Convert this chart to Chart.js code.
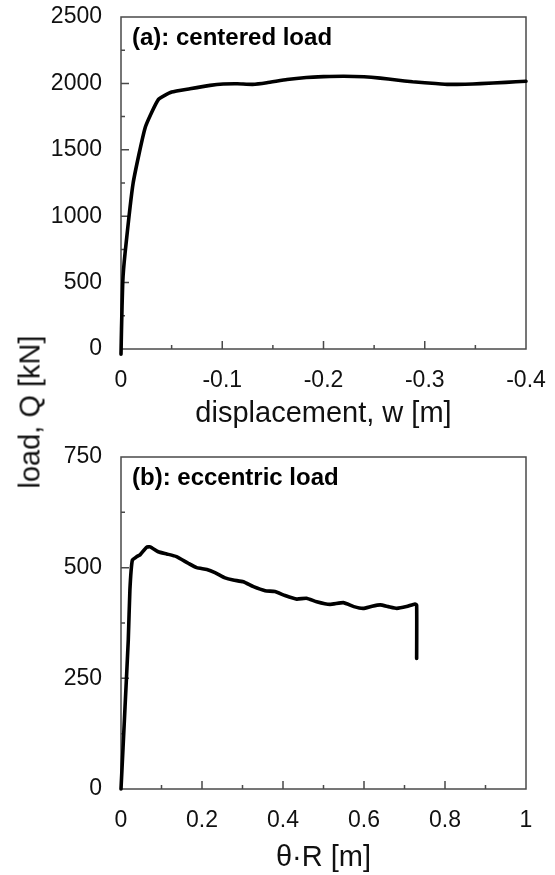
<!DOCTYPE html>
<html>
<head>
<meta charset="utf-8">
<title>load-displacement curves</title>
<script src="https://cdn.jsdelivr.net/npm/chart.js@4.4.1/dist/chart.umd.min.js"></script>
<style>
  html, body { margin: 0; padding: 0; background: #fff; }
  #figure { position: relative; width: 555px; height: 875px; }
  #figure canvas { position: absolute; left: 0; }
  #yTitle {
    position: absolute; left: 30px; top: 412px;
    transform: translate(-50%, -50%) rotate(-90deg);
    font: 29px "Liberation Sans", Arial, sans-serif;
    color: #111; white-space: nowrap;
  }
</style>
</head>
<body>
<div id="figure">
  <canvas id="chartA" width="555" height="440" style="top:0"></canvas>
  <canvas id="chartB" width="555" height="435" style="top:440px"></canvas>
  <div id="yTitle">load, Q [kN]</div>
</div>

<script>
// (a) centered load: vertical displacement w [m] vs load Q [kN]
const centeredW = [0, -0.0005, -0.0017, -0.004, -0.012, -0.024, -0.037, -0.05, -0.068, -0.088, -0.101,
  -0.115, -0.13, -0.144, -0.164, -0.183, -0.2, -0.22, -0.24, -0.256, -0.272, -0.288, -0.30, -0.322,
  -0.34, -0.355, -0.38, -0.4];
const centeredQ = [-40, 150, 500, 720, 1250, 1670, 1880, 1935, 1960, 1985, 1995,
  1997, 1993, 2005, 2030, 2045, 2051, 2054, 2050, 2040, 2025, 2012, 2005, 1993,
  1994, 1998, 2008, 2016];

// (b) eccentric load: rotation times radius θ·R [m] vs load Q [kN]
const eccentricTR = [0, 0.01, 0.018, 0.022, 0.028, 0.039, 0.047, 0.063, 0.072, 0.092, 0.113, 0.137,
  0.166, 0.187, 0.212, 0.232, 0.257, 0.277, 0.302, 0.327, 0.356, 0.38, 0.405, 0.434, 0.458,
  0.483, 0.516, 0.549, 0.575, 0.598, 0.62, 0.64, 0.66, 0.681, 0.705, 0.726, 0.73, 0.73];
const eccentricQ = [0, 186, 337, 450, 517, 525, 529, 546, 547, 536, 531, 525,
  510, 500, 496, 489, 477, 472, 468, 457, 448, 446, 437, 429, 431,
  423, 417, 421, 412, 408, 413, 416, 412, 408, 412, 418, 415, 295];

// axis ranges and tick steps
const aX = { min: -0.4, max: 0, step: 0.1, minor: 0.05 };
const aY = { min: 0, max: 2500, step: 500, minor: 250 };
const bX = { min: 0, max: 1, step: 0.2, minor: 0.1 };
const bY = { min: 0, max: 750, step: 250, minor: 125 };

const FONT = '"Liberation Sans", Arial, sans-serif';
const axisColor = '#4a4a4a';
const textColor = '#111';

// frame + inward major/minor tick marks, drawn under the curve
const frameTicks = {
  id: 'frameTicks',
  beforeDatasetsDraw(chart, args, opts) {
    const { ctx, chartArea: a, scales } = chart;
    ctx.save();
    ctx.strokeStyle = axisColor;
    ctx.lineWidth = 1.5;
    ctx.strokeRect(a.left, a.top, a.right - a.left, a.bottom - a.top);
    ctx.beginPath();
    const n = Math.round((opts.x.max - opts.x.min) / opts.x.minor);
    for (let i = 1; i < n; i++) {
      const px = scales.x.getPixelForValue(opts.x.min + i * opts.x.minor);
      const len = i % 2 === 0 ? 8 : 4;
      ctx.moveTo(px, a.bottom);
      ctx.lineTo(px, a.bottom - len);
    }
    const m = Math.round((opts.y.max - opts.y.min) / opts.y.minor);
    for (let i = 1; i < m; i++) {
      const py = scales.y.getPixelForValue(opts.y.min + i * opts.y.minor);
      const len = i % 2 === 0 ? 8 : 4;
      ctx.moveTo(a.left, py);
      ctx.lineTo(a.left + len, py);
    }
    ctx.stroke();
    ctx.restore();
  },
  afterDraw(chart, args, opts) {
    const { ctx, chartArea: a } = chart;
    ctx.save();
    ctx.font = 'bold 24px ' + FONT;
    ctx.fillStyle = '#000';
    ctx.textBaseline = 'middle';
    ctx.fillText(opts.label, a.left + 11, a.top + 21);
    ctx.restore();
  }
};

function fmt(v) {
  if (Math.abs(v) < 1e-9) return '0';
  if (Math.abs(Math.abs(v) - 1) < 1e-9) return String(Math.round(v));
  return v.toFixed(1);
}

function makeChart(id, xs, ys, xr, yr, label, xTitle, xHeight, titlePad, reverse) {
  return new Chart(document.getElementById(id), {
    type: 'line',
    data: {
      datasets: [{
        data: xs.map((x, i) => ({ x: x, y: ys[i] })),
        borderColor: '#000',
        borderWidth: 3.6,
        pointRadius: 0,
        tension: 0.15,
        borderJoinStyle: 'round',
        borderCapStyle: 'round',
        fill: false,
        clip: false
      }]
    },
    options: {
      responsive: false,
      animation: false,
      layout: { padding: { left: 0, top: 17, right: 29, bottom: 0 } },
      plugins: {
        legend: { display: false },
        tooltip: { enabled: false },
        frameTicks: { x: xr, y: yr, label: label }
      },
      scales: {
        x: {
          type: 'linear',
          min: xr.min, max: xr.max,
          reverse: reverse,
          grid: { display: false, drawTicks: false },
          border: { display: false },
          ticks: {
            stepSize: xr.step, padding: 18, color: textColor,
            font: { family: FONT, size: 23 },
            maxRotation: 0, callback: fmt
          },
          title: {
            display: true, text: xTitle, color: textColor,
            font: { family: FONT, size: 29 },
            padding: { top: 0, bottom: titlePad }
          },
          afterFit: s => {
            s.height = xHeight;
            s.paddingLeft = 0;
            s.paddingRight = 0;
          }
        },
        y: {
          type: 'linear',
          min: yr.min, max: yr.max,
          grid: { display: false, drawTicks: false },
          border: { display: false },
          ticks: {
            stepSize: yr.step, padding: 19, color: textColor,
            font: { family: FONT, size: 23 },
            callback: v => String(v)
          },
          afterFit: s => {
            s.width = 121;
            s.paddingTop = 0;
            s.paddingBottom = 0;
          }
        }
      }
    },
    plugins: [frameTicks]
  });
}

makeChart('chartA', centeredW, centeredQ, aX, aY, '(a): centered load', 'displacement, w [m]', 91, 9, true);
makeChart('chartB', eccentricTR, eccentricQ, bX, bY, '(b): eccentric load', 'θ·R [m]', 86, 0, false);
</script>
</body>
</html>
